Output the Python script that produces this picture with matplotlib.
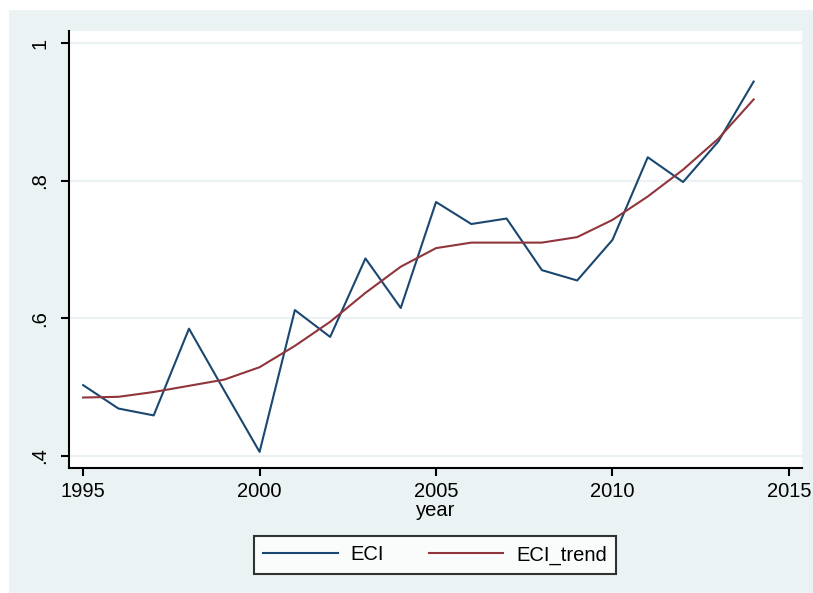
import matplotlib
matplotlib.use("Agg")
import matplotlib.pyplot as plt
from matplotlib.patches import Rectangle

years = list(range(1995, 2015))
eci = [0.503, 0.469, 0.459, 0.585, 0.495, 0.406, 0.612, 0.573, 0.687, 0.615,
       0.769, 0.737, 0.745, 0.670, 0.655, 0.714, 0.834, 0.798, 0.857, 0.944]
eci_trend = [0.485, 0.486, 0.493, 0.502, 0.511, 0.529, 0.560, 0.595, 0.637, 0.675,
             0.702, 0.710, 0.710, 0.710, 0.718, 0.743, 0.777, 0.816, 0.861, 0.918]
xticks = [1995, 2000, 2005, 2010, 2015]
yticks = [0.4, 0.6, 0.8, 1.0]
ytick_labels = [".4", ".6", ".8", "1"]

plt.rcParams['font.family'] = ['Liberation Sans', 'DejaVu Sans']
W, H = 813, 593
fig = plt.figure(figsize=(W / 100, H / 100), dpi=100, facecolor="white")
bg = "#eaf2f3"
fig.patches.append(Rectangle((9 / W, 0), 1, 1 - 10 / H, transform=fig.transFigure,
                             facecolor=bg, edgecolor="none", zorder=-10))

ax = fig.add_axes([69 / W, 1 - 468 / H, (802 - 69) / W, (468 - 31) / H])
ax.set_facecolor("white")
ax.plot(years, eci, color="#1a476f", lw=1.5, label="ECI", zorder=3)
ax.plot(years, eci_trend, color="#90353b", lw=1.5, label="ECI_trend", zorder=3)

ax.set_xlim(1994.6, 2015.37)
ax.set_ylim(0.3826, 1.0174)
ax.set_xticks(xticks)
ax.set_yticks(yticks)
ax.set_yticklabels(ytick_labels, rotation=90, va="center")
for y in yticks:
    ax.axhline(y, color=bg, lw=1.5, zorder=1)

for s in ["top", "right"]:
    ax.spines[s].set_visible(False)
for s in ["left", "bottom"]:
    ax.spines[s].set_linewidth(1.5)
    ax.spines[s].set_color("black")
ax.tick_params(axis="both", direction="out", width=1.5, length=6, labelsize=14.5,
               color="black")
ax.tick_params(axis="y", pad=8)
ax.tick_params(axis="x", pad=4)
ax.set_xlabel("year", fontsize=14.5, labelpad=0)

leg = fig.legend(loc="center", bbox_to_anchor=(435 / W, 1 - 555 / H), ncol=2,
                 fontsize=14.5, frameon=True, fancybox=False, handlelength=3.7,
                 handletextpad=0.65, columnspacing=2.2, borderpad=0.45,
                 borderaxespad=0)
leg.get_frame().set_edgecolor("black")
leg.get_frame().set_linewidth(1.5)
leg.get_frame().set_facecolor("white")

fig.savefig("out.png", dpi=100, facecolor="white")
